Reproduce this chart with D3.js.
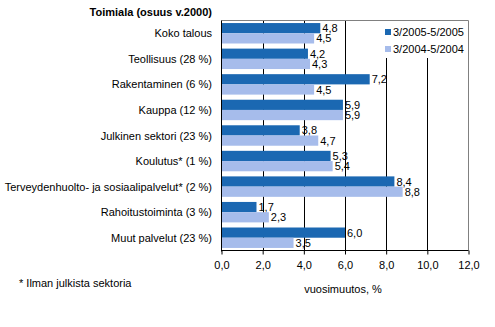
<!DOCTYPE html>
<html><head><meta charset="utf-8">
<script src="https://cdn.jsdelivr.net/npm/d3@7"></script>
<style>body{margin:0;background:#fff}svg{display:block;font-family:"Liberation Sans",Arial,sans-serif}</style>
</head><body>
<script>
const categories = ["Koko talous","Teollisuus (28 %)","Rakentaminen (6 %)","Kauppa (12 %)","Julkinen sektori (23 %)","Koulutus* (1 %)","Terveydenhuolto- ja sosiaalipalvelut* (2 %)","Rahoitustoiminta (3 %)","Muut palvelut (23 %)"];
const seriesNames = ["3/2005-5/2005","3/2004-5/2004"];
const values2005 = [4.8,4.2,7.2,5.9,3.8,5.3,8.4,1.7,6.0];
const values2004 = [4.5,4.3,4.5,5.9,4.7,5.4,8.8,2.3,3.5];
const xTicks = [0,2,4,6,8,10,12];
const colors = ["#1B68B2","#A6BCEB"];
const chartTitle = "Toimiala (osuus v.2000)";
const xTitle = "vuosimuutos, %";
const footnote = "* Ilman julkista sektoria";

const W=495,H=327, pL=221.5, pR=468.5, pT=20.5, pB=250.5;
const svg=d3.select("body").append("svg").attr("width",W).attr("height",H);
const x=d3.scaleLinear().domain([0,12]).range([pL,pR]);
const y=d3.scaleBand().domain(categories).range([pT,pB]).paddingInner(0.2).paddingOuter(0.1);
const y2=d3.scaleBand().domain([0,1]).range([0,y.bandwidth()]);
const fmt=v=>d3.format(".1f")(v).replace(".",",");

// gridlines
svg.append("g").selectAll("line").data(xTicks.slice(1,-1)).join("line")
  .attr("x1",d=>Math.round(x(d))+0.5).attr("x2",d=>Math.round(x(d))+0.5)
  .attr("y1",pT).attr("y2",pB).attr("stroke","#000").attr("stroke-width",1);
// frame
svg.append("path").attr("d",`M${pL},${pT}H${pR}V${pB}`).attr("fill","none").attr("stroke","#808080").attr("stroke-width",1);

// legend background
svg.append("rect").attr("x",375).attr("y",pT+0.5).attr("width",pR-375-0.5).attr("height",37).attr("fill","#fff");

const series=[values2005,values2004];
series.forEach((vals,si)=>{
  const g=svg.append("g");
  g.selectAll("rect").data(vals).join("rect")
    .attr("x",pL).attr("y",(d,i)=>y(categories[i])+y2(si))
    .attr("width",d=>x(d)-pL).attr("height",y2.bandwidth()).attr("fill",colors[si]);
  g.selectAll("text").data(vals).join("text")
    .attr("x",d=>x(d)+2).attr("y",(d,i)=>y(categories[i])+y2(si)+y2.bandwidth()/2+4)
    .attr("font-size",11).attr("fill","#000").text(fmt);
});

// y axis
svg.append("line").attr("x1",pL).attr("x2",pL).attr("y1",pT).attr("y2",pB+1).attr("stroke","#000");
svg.append("g").selectAll("text").data(categories).join("text")
  .attr("x",212).attr("y",d=>y(d)+y.bandwidth()/2+4).attr("text-anchor","end")
  .attr("font-size",11).text(d=>d);
svg.append("text").attr("x",212).attr("y",16).attr("text-anchor","end").attr("font-size",11).attr("font-weight","bold").text(chartTitle);

// x axis
const xa=svg.append("g").attr("transform",`translate(0,${pB})`)
  .call(d3.axisBottom(x).tickValues(xTicks).tickSize(4).tickPadding(7).tickFormat(fmt));
xa.select(".domain").attr("stroke","#000").attr("d",`M${pL},0H${pR}`);
xa.selectAll(".tick line").attr("stroke","#000");
xa.selectAll("text").attr("font-size",11).attr("font-family","Liberation Sans, Arial, sans-serif");
svg.append("text").attr("x",343).attr("y",293).attr("text-anchor","middle").attr("font-size",11).text(xTitle);
svg.append("text").attr("x",19).attr("y",287).attr("font-size",11).text(footnote);

// legend
seriesNames.forEach((n,i)=>{
  svg.append("rect").attr("x",385).attr("y",29+i*17).attr("width",6).attr("height",6).attr("fill",colors[i]);
  svg.append("text").attr("x",393).attr("y",36+i*17).attr("font-size",11).text(n);
});
</script>
</body></html>
